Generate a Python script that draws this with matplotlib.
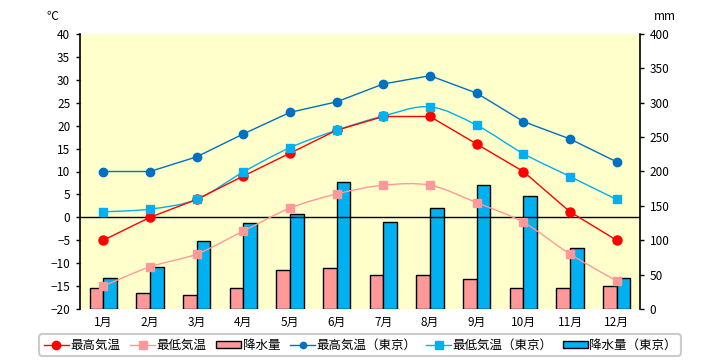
import matplotlib
matplotlib.use("Agg")
import matplotlib.pyplot as plt
from matplotlib.path import Path
from matplotlib.patches import PathPatch, Patch
from matplotlib.lines import Line2D
import numpy as np

plt.rcParams['font.family'] = ['Noto Sans CJK JP', 'DejaVu Sans']

months = ['1月', '2月', '3月', '4月', '5月', '6月', '7月', '8月', '9月', '10月', '11月', '12月']

# local station
max_temp = [-5, 0, 3.9, 9, 14, 19, 22, 22, 16, 10, 1.2, -5]
min_temp = [-15, -10.8, -8, -3, 2, 5.1, 7, 7, 3.2, -1.1, -8, -13.9]
precip = [31, 24, 21, 31, 57, 60, 50, 50, 44, 30, 30, 34]

# Tokyo
max_tokyo = [10, 10, 13.2, 18.2, 22.9, 25.2, 29.1, 30.9, 27.1, 20.9, 17.1, 12.1]
min_tokyo = [1.2, 1.8, 3.9, 9.9, 15.2, 19, 22.1, 24.1, 20.1, 13.9, 8.9, 3.9]
precip_tokyo = [45.1, 60.4, 99.5, 125.0, 138.0, 185.0, 126.1, 147.5, 179.8, 164.1, 89.1, 45.7]

RED = '#FF0000'
PINK = '#FF9999'
BLUE = '#0070C0'
CYAN = '#00B0F0'


def smooth(ax, x, y, color, lw):
    # bezier curve through the points (like Excel's smoothed line)
    x = list(x)
    y = list(y)
    n = len(x)
    verts = [(x[0], y[0])]
    codes = [Path.MOVETO]
    for i in range(n - 1):
        x0, y0 = (x[i - 1], y[i - 1]) if i > 0 else (x[i], y[i])
        x3, y3 = (x[i + 2], y[i + 2]) if i + 2 < n else (x[i + 1], y[i + 1])
        c1 = (x[i] + (x[i + 1] - x0) / 6, y[i] + (y[i + 1] - y0) / 6)
        c2 = (x[i + 1] - (x3 - x[i]) / 6, y[i + 1] - (y3 - y[i]) / 6)
        verts += [c1, c2, (x[i + 1], y[i + 1])]
        codes += [Path.CURVE4] * 3
    ax.add_patch(PathPatch(Path(verts, codes), fill=False, edgecolor=color, lw=lw, zorder=3))


fig = plt.figure(figsize=(7.2, 3.6), dpi=100)
ax = fig.add_axes([80 / 720, 1 - 309 / 360, 560 / 720, 275 / 360])
ax2 = ax.twinx()

x = np.arange(len(months))
w = 0.29

# precipitation bars on right axis (drawn behind)
ax2.bar(x - w / 2, precip, width=w, color=PINK, edgecolor='black', linewidth=1)
ax2.bar(x + w / 2, precip_tokyo, width=w, color=CYAN, edgecolor='black', linewidth=1)
ax2.set_ylim(0, 400)
ax2.set_yticks(range(0, 401, 50))
ax2.patch.set_visible(True)
ax2.patch.set_facecolor('#FFFFCC')

ax.set_zorder(ax2.get_zorder() + 1)
ax.patch.set_visible(False)

# temperature lines
ax.axhline(0, color='black', lw=1, zorder=2)
ax.plot(x, max_temp, color=RED, lw=1, marker='o', ms=6.5, zorder=4)
smooth(ax, x, min_temp, PINK, 1)
ax.plot(x, min_temp, ls='none', color=PINK, marker='s', ms=6, zorder=4)
ax.plot(x, max_tokyo, color=BLUE, lw=1, marker='o', ms=6, zorder=4)
smooth(ax, x, min_tokyo, CYAN, 1)
ax.plot(x, min_tokyo, ls='none', color=CYAN, marker='s', ms=6, zorder=4)

ax.set_xlim(-0.5, 11.5)
ax.set_ylim(-20, 40)
ax.set_yticks(range(-20, 41, 5))
ax.set_xticks(x)
ax.set_xticklabels(months)

for a in (ax, ax2):
    for s in ('top', 'bottom'):
        a.spines[s].set_visible(False)
    a.tick_params(axis='both', labelsize=8.5, length=3, width=1, pad=4, colors='black')
    a.tick_params(axis='x', length=0, pad=5)
ax.spines['right'].set_visible(False)
ax2.spines['left'].set_visible(False)
ax2.spines['right'].set_linewidth(1.2)
ax.spines['left'].set_linewidth(1.2)

fig.text(52 / 720, 1 - 16 / 360, '℃', fontsize=8.5, ha='center', va='center')
fig.text(665 / 720, 1 - 16 / 360, 'mm', fontsize=8.5, ha='center', va='center')

handles = [
    Line2D([], [], color=RED, lw=1, marker='o', ms=6),
    Line2D([], [], color=PINK, lw=1, marker='s', ms=6),
    Patch(facecolor=PINK, edgecolor='black'),
    Line2D([], [], color=BLUE, lw=1, marker='o', ms=4.5),
    Line2D([], [], color=CYAN, lw=1, marker='s', ms=6),
    Patch(facecolor=CYAN, edgecolor='black'),
]
labels = ['最高気温', '最低気温', '降水量', '最高気温（東京）', '最低気温（東京）', '降水量（東京）']
leg = fig.legend(handles, labels, loc='center', bbox_to_anchor=(0.5, 1 - 345 / 360), ncol=6,
                 fontsize=9, frameon=True, fancybox=True, edgecolor='#C0C0C0',
                 handlelength=2.0, handleheight=0.5, handletextpad=0.1, columnspacing=0.8,
                 borderpad=0.35)
leg.get_frame().set_linewidth(1.5)

fig.savefig('out.png', dpi=100, facecolor='white')
